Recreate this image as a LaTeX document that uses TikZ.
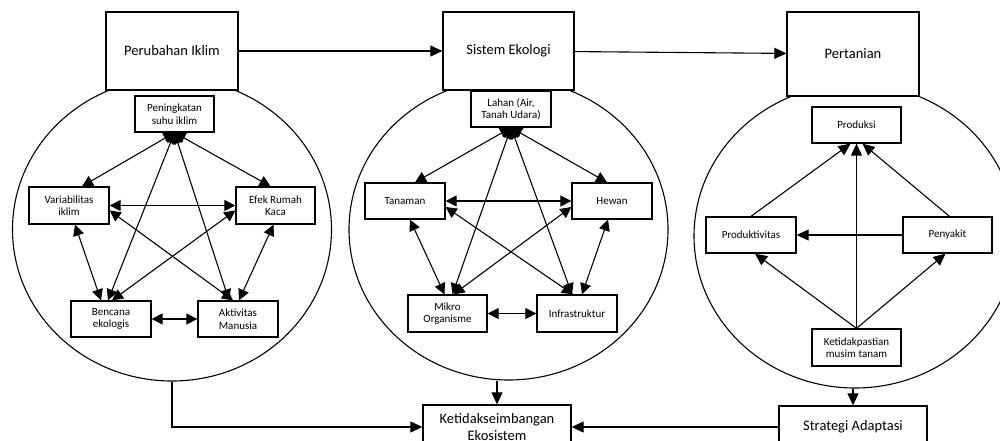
\documentclass[tikz,border=0pt]{standalone}
\usepackage{fontspec}
\setmainfont{Carlito}
\usetikzlibrary{arrows.meta,shapes.geometric,calc}
\begin{document}
\begin{tikzpicture}[x=1pt,y=-1pt,
  ring/.style={draw, ellipse, line width=1.1pt, inner sep=0pt},
  bigbox/.style={draw, fill=white, line width=1.3pt, font=\fontsize{14.5}{17}\selectfont, align=center, inner sep=0pt},
  smallbox/.style={draw, fill=white, line width=1.3pt, font=\fontsize{11}{12.5}\selectfont, align=center, inner sep=0pt, minimum width=80pt, minimum height=36pt},
  link/.style={line width=1.1pt, -{Triangle[length=12pt,width=11pt]}},
  dlink/.style={line width=1.1pt, {Triangle[length=11pt,width=11pt]}-{Triangle[length=11pt,width=11pt]}},
]
\useasboundingbox (0,0) rectangle (1000,441);
\clip (0,0) rectangle (1000,441);
\fill[white] (0,0) rectangle (1000,441);

% rings
\node[ring, minimum width=319pt, minimum height=303pt] (c1) at (172,229.5) {};
\node[ring, minimum width=319pt, minimum height=301pt] (c2) at (508.5,229.5) {};
\node[ring, minimum width=322pt, minimum height=304pt] (c3) at (855,236) {};

% main boxes
\node[bigbox, minimum width=132pt, minimum height=78pt] (pi) at (172,51) {Perubahan Iklim};
\node[bigbox, minimum width=131pt, minimum height=78pt] (se) at (508.5,51) {Sistem Ekologi};
\node[bigbox, minimum width=132pt, minimum height=84pt] (pt) at (853,54) {Pertanian};
\node[bigbox, minimum width=148pt, minimum height=44pt] (ke) at (497,427) {Ketidakseimbangan\\Ekosistem};
\node[bigbox, minimum width=148pt, minimum height=42pt] (sa) at (853,427) {Strategi Adaptasi};

% circle 1 nodes
\node[smallbox, minimum width=79pt] (pen) at (174.5,114) {Peningkatan\\suhu iklim};
\node[smallbox, minimum height=37pt] (var) at (69,205.5) {Variabilitas\\iklim};
\node[smallbox, minimum width=79pt, minimum height=37pt] (efek) at (275.5,205.5) {Efek Rumah\\Kaca};
\node[smallbox] (benc) at (111,319) {Bencana\\ekologis};
\node[smallbox] (akt) at (238,319) {Aktivitas\\Manusia};

% circle 2 nodes
\node[smallbox] (lah) at (511,109) {Lahan (Air,\\Tanah Udara)};
\node[smallbox] (tan) at (405,201) {Tanaman};
\node[smallbox] (hew) at (612,201) {Hewan};
\node[smallbox, minimum width=79pt, minimum height=37pt] (mik) at (447.5,313.5) {Mikro\\Organisme};
\node[smallbox, minimum height=37pt] (inf) at (577,313.5) {Infrastruktur};

% circle 3 nodes
\node[smallbox, minimum width=89pt] (prod) at (856.5,125) {Produksi};
\node[smallbox, minimum width=90pt] (prodv) at (751,235) {Produktivitas};
\node[smallbox, minimum width=89pt] (peny) at (947.5,235) {Penyakit};
\node[smallbox, minimum width=89pt, minimum height=37pt] (ketp) at (856.5,347.5) {Ketidakpastian\\musim tanam};

% main connectors
\draw[link] (pi) -- (se);
\draw[link] (se) -- (pt);
\draw[link] (c1.south) |- (ke.west);
\draw[link] (c2.south -| ke.north) -- (ke.north);
\draw[link] (c3.south -| sa.north) -- (sa.north);
\draw[link] (sa.west) -- (ke.east);

% circle 1 links
\draw[dlink] (pen.south) -- ($(var.north)+(13,0)$);
\draw[dlink] (pen.south) -- ($(efek.north)+(-5,0)$);
\draw[dlink] (pen.south) -- ($(benc.north)+(-3,0)$);
\draw[dlink] (pen.south) -- ($(akt.north)+(-9,0)$);
\draw[dlink] (var.east) -- (efek.west);
\draw[dlink] ($(var.east)+(0,5)$) -- ($(akt.north)+(-5,0)$);
\draw[dlink] ($(efek.west)+(0,5)$) -- ($(benc.north)+(1,0)$);
\draw[dlink] ($(var.south)+(6,0)$) -- ($(benc.north)+(-10,0)$);
\draw[dlink] ($(efek.south)+(-2,0)$) -- ($(akt.north)+(1,0)$);
\draw[dlink] (benc.east) -- (akt.west);

% circle 2 links
\draw[dlink] (lah.south) -- ($(tan.north)+(10,0)$);
\draw[dlink] (lah.south) -- ($(hew.north)+(-5,0)$);
\draw[dlink] (lah.south) -- ($(mik.north)+(5,0)$);
\draw[dlink] (lah.south) -- ($(inf.north)+(-5,0)$);
\draw[dlink] (tan.east) -- (hew.west);
\draw[dlink] ($(tan.east)+(0,6)$) -- ($(inf.north)+(-4,0)$);
\draw[dlink] ($(hew.west)+(0,6)$) -- ($(mik.north)+(6,0)$);
\draw[dlink] ($(tan.south)+(5,0)$) -- ($(mik.north)+(-3,0)$);
\draw[dlink] ($(hew.south)+(-4,0)$) -- ($(inf.north)+(5,0)$);
\draw[dlink] (mik.east) -- (inf.west);

% circle 3 links
\draw[link] (prodv.north) -- ($(prod.south)+(-6,0)$);
\draw[link] ($(peny.north)+(2,0)$) -- ($(prod.south)+(6,0)$);
\draw[link] (ketp.north) -- (prod.south);
\draw[link] (peny.west) -- (prodv.east);
\draw[link] (ketp.north) -- ($(prodv.south)+(4,0)$);
\draw[link] (ketp.north) -- ($(peny.south)+(-2,0)$);
\end{tikzpicture}
\end{document}
